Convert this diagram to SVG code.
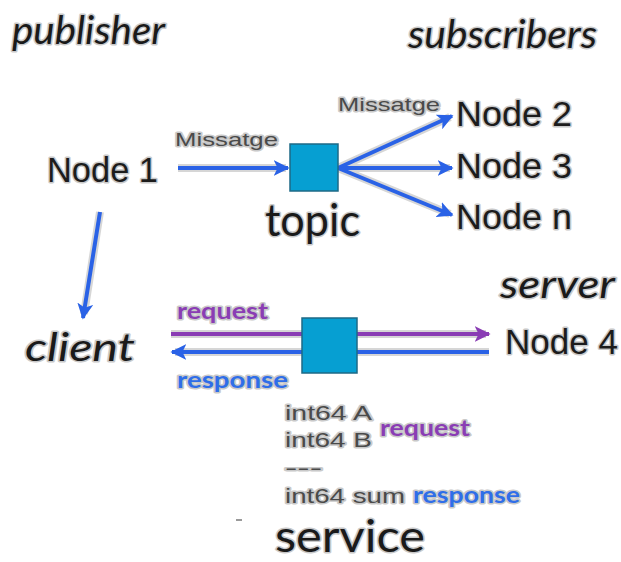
<svg xmlns="http://www.w3.org/2000/svg" width="621" height="562" viewBox="0 0 621 562">
  <style>
    .halo { paint-order: stroke; stroke: #c9c9c9; stroke-width: 3px; stroke-linejoin: round; }
    .role { font-family: Lato, "Open Sans", sans-serif; font-style: italic; font-size: 38px; fill: #1a1a1a; }
    .word { font-family: Lato, "Open Sans", sans-serif; font-size: 44px; fill: #1a1a1a; }
    .node { font-family: "Liberation Sans", Arial, sans-serif; font-size: 35px; fill: #1c1c1c; }
    .msg  { font-family: "Liberation Sans", Arial, sans-serif; font-size: 19px; fill: #4a4a4a; }
    .field { font-family: "Liberation Sans", Arial, sans-serif; font-size: 20px; fill: #4a4a4a; }
    .req  { font-family: Lato, "Open Sans", sans-serif; font-weight: bold; font-size: 22px; fill: #8a3db4; }
    .resp { font-family: Lato, "Open Sans", sans-serif; font-weight: bold; font-size: 22px; fill: #2f6ee8; }
    .box  { fill: #069fd2; stroke: #1e6a86; stroke-width: 1.5; }
    .blue { stroke: #2a62e6; stroke-width: 4; fill: none; }
    .purple { stroke: #8a3db4; stroke-width: 4; fill: none; }
    .under { stroke: #d6d6d6; stroke-width: 8; fill: none; }
  </style>
  <defs>
    <marker id="arrowBlue" viewBox="0 0 10 10" refX="9" refY="5" markerWidth="4" markerHeight="4" orient="auto" markerUnits="strokeWidth">
      <path d="M0,0 L10,5 L0,10 L2.5,5 Z" fill="#2a62e6"/>
    </marker>
    <marker id="arrowPurple" viewBox="0 0 10 10" refX="9" refY="5" markerWidth="4" markerHeight="4" orient="auto" markerUnits="strokeWidth">
      <path d="M0,0 L10,5 L0,10 L2.5,5 Z" fill="#8a3db4"/>
    </marker>
  </defs>

  <!-- role headings -->
  <g id="publisher"><text class="role halo" x="12" y="44" textLength="153" lengthAdjust="spacingAndGlyphs">publisher</text></g>
  <g id="subscribers"><text class="role halo" x="408" y="48" textLength="189" lengthAdjust="spacingAndGlyphs">subscribers</text></g>
  <g id="client"><text class="role halo" x="25" y="361" textLength="110" lengthAdjust="spacingAndGlyphs">client</text></g>
  <g id="server"><text class="role halo" x="500" y="298" textLength="115" lengthAdjust="spacingAndGlyphs">server</text></g>

  <!-- connectors -->
  <g id="connectors">
    <g class="under">
      <line x1="178" y1="168" x2="286" y2="168"/>
      <line x1="338" y1="168" x2="450" y2="117"/>
      <line x1="338" y1="168" x2="450" y2="168"/>
      <line x1="338" y1="168" x2="450" y2="214"/>
      <line x1="100" y1="212" x2="84" y2="314"/>
      <line x1="171" y1="334" x2="486" y2="334"/>
      <line x1="489" y1="352" x2="175" y2="352"/>
    </g>
    <line class="blue" x1="178" y1="168" x2="288" y2="168" marker-end="url(#arrowBlue)"/>
    <line class="blue" x1="338" y1="168" x2="452" y2="116" marker-end="url(#arrowBlue)"/>
    <line class="blue" x1="338" y1="168" x2="452" y2="168" marker-end="url(#arrowBlue)"/>
    <line class="blue" x1="338" y1="168" x2="452" y2="215" marker-end="url(#arrowBlue)"/>
    <line class="blue" x1="100" y1="212" x2="83" y2="318" marker-end="url(#arrowBlue)"/>
    <line class="purple" x1="171" y1="334" x2="489" y2="334" marker-end="url(#arrowPurple)"/>
    <line class="blue" x1="489" y1="352" x2="172" y2="352" marker-end="url(#arrowBlue)"/>
    <text class="msg halo" x="175" y="146" textLength="103" lengthAdjust="spacingAndGlyphs">Missatge</text>
    <text class="msg halo" x="338" y="111" textLength="102" lengthAdjust="spacingAndGlyphs">Missatge</text>
    <text class="req halo" x="177" y="319" textLength="91" lengthAdjust="spacingAndGlyphs">request</text>
    <text class="resp halo" x="177" y="388" textLength="111" lengthAdjust="spacingAndGlyphs">response</text>
  </g>

  <!-- nodes -->
  <g id="node1"><text class="node halo" x="47" y="182" textLength="111" lengthAdjust="spacingAndGlyphs">Node 1</text></g>
  <g id="node2"><text class="node halo" x="456" y="126" textLength="116" lengthAdjust="spacingAndGlyphs">Node 2</text></g>
  <g id="node3"><text class="node halo" x="456" y="178" textLength="116" lengthAdjust="spacingAndGlyphs">Node 3</text></g>
  <g id="nodeN"><text class="node halo" x="456" y="229" textLength="116" lengthAdjust="spacingAndGlyphs">Node n</text></g>
  <g id="node4"><text class="node halo" x="505" y="354" textLength="113" lengthAdjust="spacingAndGlyphs">Node 4</text></g>

  <g id="topic">
    <rect class="box" x="290" y="144" width="48" height="47"/>
    <text class="word halo" x="265" y="236" textLength="95" lengthAdjust="spacingAndGlyphs">topic</text>
  </g>

  <g id="service">
    <rect class="box" x="302" y="318" width="55" height="55"/>
    <text class="field halo" x="285" y="420" textLength="87" lengthAdjust="spacingAndGlyphs">int64 A</text>
    <text class="field halo" x="285" y="447" textLength="87" lengthAdjust="spacingAndGlyphs">int64 B</text>
    <text class="field halo" x="285" y="475" textLength="37" lengthAdjust="spacingAndGlyphs">---</text>
    <text class="field halo" x="285" y="503" textLength="120" lengthAdjust="spacingAndGlyphs">int64 sum</text>
    <text class="req halo" x="380" y="436" textLength="90" lengthAdjust="spacingAndGlyphs">request</text>
    <text class="resp halo" x="413" y="503" textLength="107" lengthAdjust="spacingAndGlyphs">response</text>
    <rect x="236" y="519" width="6" height="2" fill="#9a9a9a"/>
    <text class="word halo" x="275" y="552" textLength="150" lengthAdjust="spacingAndGlyphs">service</text>
  </g>
</svg>
